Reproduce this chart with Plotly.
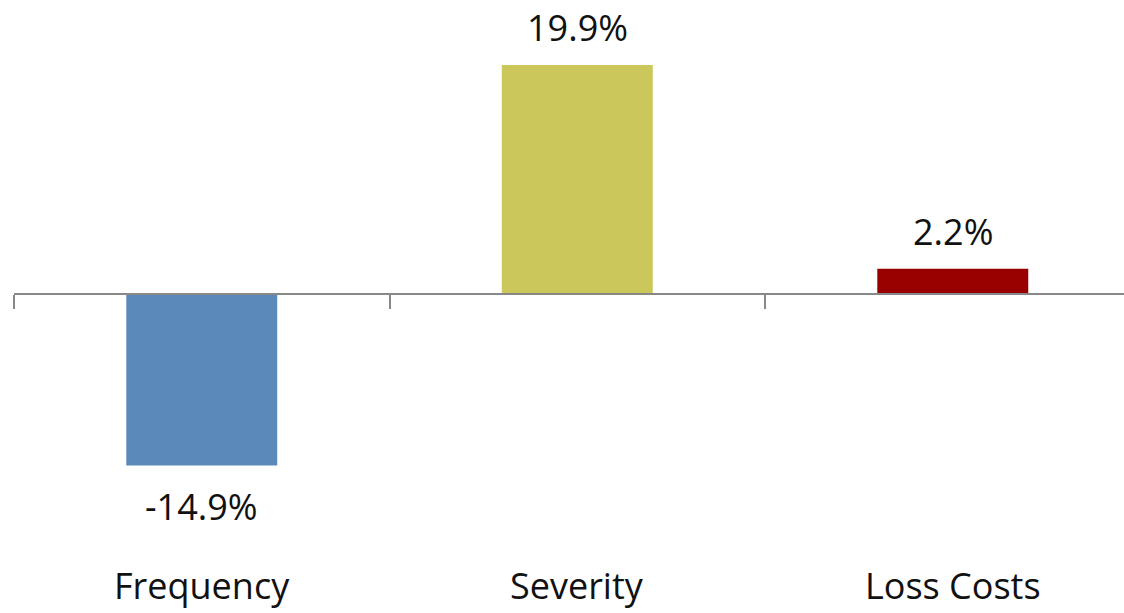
import plotly.graph_objects as go

# Year-over-year change by component
categories = ["Frequency", "Severity", "Loss Costs"]
changes = [-14.9, 19.9, 2.2]
bar_colors = ["#5B89B9", "#CBC75B", "#980000"]

W, H = 1124, 613
LEFT = 14
FONT = dict(family="Open Sans, Calibri, sans-serif", size=36, color="#111111")

# value range chosen so the zero line sits at ~294 px from the top
y_min, y_max = -27.72, 25.54
x_min, x_max = -0.5, 2.456
zero_pos = (0 - y_min) / (y_max - y_min)

fig = go.Figure(
    go.Bar(
        x=categories,
        y=changes,
        marker=dict(color=bar_colors, line=dict(width=0)),
        width=0.402,
        hoverinfo="skip",
    )
)

# value labels above / below each bar
for cat, v in zip(categories, changes):
    fig.add_annotation(
        x=cat,
        y=v,
        xref="x",
        yref="y",
        text=f"{v:.1f}%",
        showarrow=False,
        font=FONT,
        yanchor="middle",
        yshift=37 if v >= 0 else -41.5,
    )

# category labels along the bottom
for cat in categories:
    fig.add_annotation(
        x=cat,
        y=0,
        xref="x",
        yref="paper",
        text=cat,
        showarrow=False,
        font=FONT,
        yanchor="bottom",
        yshift=1,
    )

fig.update_layout(
    width=W,
    height=H,
    margin=dict(l=LEFT, r=0, t=0, b=0),
    paper_bgcolor="white",
    plot_bgcolor="white",
    showlegend=False,
    xaxis=dict(
        type="category",
        range=[x_min, x_max],
        anchor="free",
        position=zero_pos,
        showline=True,
        linecolor="#888888",
        linewidth=2,
        ticks="outside",
        tickson="boundaries",
        ticklen=14,
        tickwidth=2,
        tickcolor="#888888",
        showticklabels=False,
        showgrid=False,
        zeroline=False,
    ),
    yaxis=dict(
        range=[y_min, y_max],
        visible=False,
        showgrid=False,
        zeroline=False,
    ),
)

fig.write_html("out.html")
